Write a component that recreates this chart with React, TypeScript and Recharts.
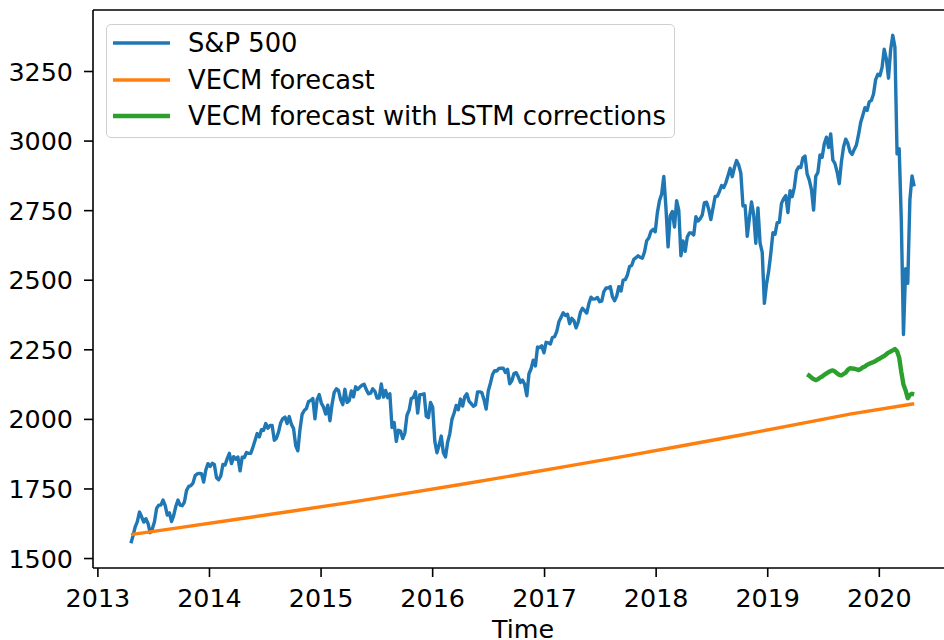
import { LineChart, Line, XAxis, YAxis, Legend, ReferenceLine } from 'recharts';

// weekly closes, first week ending 2013-04-19
const spStart = '2013-04-19';
const spValues = [
  1555, 1582, 1614, 1633, 1667, 1650, 1631, 1643, 1626, 1593, 1606, 1632, 1680, 1692, 1692, 1710, 1691, 1656, 1664,
  1633, 1655, 1688, 1710, 1692, 1690, 1703, 1745, 1759, 1762, 1771, 1798, 1804, 1806, 1805, 1775, 1818, 1841,
  1831, 1842, 1838, 1790, 1783, 1797, 1838, 1836, 1859, 1878, 1841, 1866, 1857, 1865, 1815, 1864, 1863, 1881,
  1878, 1878, 1900, 1924, 1949, 1937, 1963, 1961, 1985, 1968, 1978, 1978, 1925, 1932, 1955, 1988, 2003, 2008,
  1985, 2010, 1982, 1967, 1906, 1887, 1964, 2018, 2032, 2039, 2064, 2068, 2075, 2002, 2071, 2089,
  2058, 2044, 2019, 2051, 1995, 2055, 2097, 2110, 2104, 2071, 2053, 2108, 2061, 2067, 2102, 2081, 2117, 2108,
  2116, 2123, 2126, 2107, 2092, 2094, 2110, 2101, 2077, 2077, 2127, 2080, 2104, 2078, 2092, 1971, 1989, 1921,
  1961, 1958, 1931, 1951, 2015, 2033, 2075, 2079, 2099, 2023, 2089, 2090, 2092, 2012, 2006, 2061,
  2044, 1922, 1880, 1907, 1940, 1880, 1865, 1918, 1948, 2000, 2022, 2050, 2035, 2073, 2048, 2081, 2092, 2065,
  2057, 2047, 2052, 2099, 2099, 2096, 2071, 2037, 2103, 2130, 2162, 2175, 2174, 2183, 2184, 2184, 2169, 2180,
  2128, 2139, 2165, 2168, 2153, 2133, 2141, 2126, 2085, 2164, 2182, 2213, 2192, 2260, 2258, 2264, 2239,
  2277, 2275, 2271, 2295, 2297, 2316, 2351, 2367, 2383, 2373, 2378, 2344, 2363, 2355, 2329, 2349, 2384, 2399,
  2391, 2382, 2416, 2439, 2432, 2433, 2438, 2423, 2425, 2459, 2472, 2472, 2477, 2441, 2426, 2443, 2477, 2461,
  2500, 2502, 2519, 2549, 2553, 2575, 2581, 2588, 2582, 2579, 2602, 2642, 2652, 2675, 2683, 2674,
  2743, 2786, 2810, 2873, 2762, 2620, 2732, 2747, 2691, 2786, 2752, 2588, 2641, 2604, 2656, 2670, 2670, 2663,
  2728, 2713, 2721, 2735, 2779, 2780, 2755, 2718, 2760, 2801, 2802, 2819, 2840, 2833, 2850, 2875, 2902, 2872,
  2905, 2930, 2914, 2885, 2767, 2768, 2658, 2723, 2781, 2736, 2633, 2760, 2633, 2600, 2417, 2486,
  2532, 2596, 2671, 2665, 2707, 2708, 2776, 2793, 2804, 2743, 2822, 2800, 2834, 2893, 2907, 2905, 2940, 2946,
  2881, 2860, 2826, 2752, 2873, 2887, 2950, 2942, 2990, 3014, 2977, 3026, 2932, 2919, 2889, 2847, 2926, 2979,
  3007, 2992, 2962, 2952, 2970, 2986, 3023, 3067, 3093, 3120, 3110, 3141, 3146, 3169, 3221, 3240,
  3235, 3265, 3330, 3295, 3226, 3328, 3380, 3338, 2954, 2972, 2711, 2305, 2541, 2489, 2790, 2875, 2837,
];

const vecmDates = [
  '2013-04-19', '2013-10-01', '2014-04-01', '2014-10-01', '2015-04-01', '2015-10-01', '2016-04-01', '2016-10-01',
  '2017-04-01', '2017-10-01', '2018-04-01', '2018-10-01', '2019-04-01', '2019-10-01', '2020-04-24',
];
const vecmValues = [1586, 1612, 1641, 1671, 1701, 1733, 1766, 1800, 1835, 1870, 1906, 1943, 1981, 2020, 2056];

// weekly, first week ending 2019-05-10
const lstmStart = '2019-05-10';
const lstmValues = [
  2162, 2157, 2150, 2145, 2141, 2144, 2150, 2154, 2160, 2165, 2170, 2174, 2176, 2172, 2165, 2160, 2158, 2163,
  2168, 2178, 2184, 2183, 2182, 2180, 2177, 2181, 2187, 2190, 2196, 2200, 2203, 2206, 2210, 2215, 2219, 2224,
  2228, 2234, 2240, 2244, 2248, 2253, 2245, 2222, 2170, 2125, 2104, 2076, 2088, 2092, 2090,
];

const yearTicks = [2013, 2014, 2015, 2016, 2017, 2018, 2019, 2020];
const valueTicks = [1500, 1750, 2000, 2250, 2500, 2750, 3000, 3250];

const WEEK = 7 * 24 * 3600 * 1000;
const ts = (s: string) => Date.parse(s + 'T00:00:00Z');
const weekly = (start: string, values: number[]) => values.map((v, i) => ({ t: ts(start) + i * WEEK, v }));

const spData = weekly(spStart, spValues);
const lstmData = weekly(lstmStart, lstmValues);
const vecmData = vecmDates.map((d, i) => ({ t: ts(d), v: vecmValues[i] }));

const xMin = ts('2012-12-16');
const xMax = ts('2020-08-29');
const yMin = 1466;
const yMax = 3471;

const FONT = '"DejaVu Sans", sans-serif';
const tickStyle = { fill: '#000', fontSize: 25.4, fontFamily: FONT };

const LegendBox = ({ payload }: any) => (
  <div
    style={{
      boxSizing: 'border-box',
      width: 569,
      height: 114,
      border: '1.5px solid #cfcfcf',
      borderRadius: 5,
      background: 'rgba(255,255,255,0.8)',
      fontFamily: FONT,
      fontSize: 25.8,
      color: '#000',
    }}
  >
    {(payload || []).map((p: any) => (
      <div key={p.value} style={{ display: 'flex', alignItems: 'center', height: 36.5, paddingLeft: 6 }}>
        <svg width={57} height={8} style={{ flex: 'none' }}>
          <line x1={0} y1={4} x2={57} y2={4} stroke={p.color} strokeWidth={p.value.includes('LSTM') ? 4.4 : 3.4} />
        </svg>
        <span style={{ marginLeft: 18, whiteSpace: 'nowrap' }}>{p.value}</span>
      </div>
    ))}
  </div>
);

const TimeLabel = ({ viewBox }: any) => (
  <text x={viewBox.x + viewBox.width / 2} y={638} textAnchor="middle" fill="#000" fontSize={25.4} fontFamily={FONT}>
    Time
  </text>
);

export default function App() {
  return (
    <div style={{ position: 'absolute', left: 0, top: 0, width: 944, height: 640, overflow: 'hidden', background: '#fff' }}>
      <LineChart width={960} height={640} margin={{ top: 10, right: 7, left: 0, bottom: 0 }} style={{ fontFamily: FONT }}>
        <XAxis
          type="number"
          dataKey="t"
          domain={[xMin, xMax]}
          allowDataOverflow
          ticks={yearTicks.map(y => Date.UTC(y, 0, 1))}
          tickFormatter={(v: number) => String(new Date(v).getUTCFullYear())}
          interval={0}
          height={72}
          tickSize={9}
          tickMargin={12}
          tick={tickStyle}
          stroke="#000"
          strokeWidth={1.6}
          label={<TimeLabel />}
        />
        <YAxis
          type="number"
          dataKey="v"
          domain={[yMin, yMax]}
          allowDataOverflow
          ticks={valueTicks}
          interval={0}
          width={93}
          tickSize={9}
          tickMargin={11}
          tick={tickStyle}
          stroke="#000"
          strokeWidth={1.6}
        />
        <ReferenceLine y={yMax} stroke="#000" strokeWidth={1.6} />
        <ReferenceLine x={xMax} stroke="#000" strokeWidth={1.6} />
        <Legend
          layout="vertical"
          align="center"
          verticalAlign="middle"
          wrapperStyle={{ left: 106, top: 24, width: 'auto' }}
          content={<LegendBox />}
        />
        <Line
          data={spData}
          dataKey="v"
          name="S&P 500"
          type="linear"
          stroke="#1f77b4"
          strokeWidth={3.4}
          strokeLinejoin="round"
          dot={false}
          activeDot={false}
          isAnimationActive={false}
        />
        <Line
          data={vecmData}
          dataKey="v"
          name="VECM forecast"
          type="linear"
          stroke="#ff7f0e"
          strokeWidth={3.4}
          strokeLinejoin="round"
          dot={false}
          activeDot={false}
          isAnimationActive={false}
        />
        <Line
          data={lstmData}
          dataKey="v"
          name="VECM forecast with LSTM corrections"
          type="linear"
          stroke="#2ca02c"
          strokeWidth={4.4}
          strokeLinejoin="round"
          dot={false}
          activeDot={false}
          isAnimationActive={false}
        />
      </LineChart>
    </div>
  );
}
